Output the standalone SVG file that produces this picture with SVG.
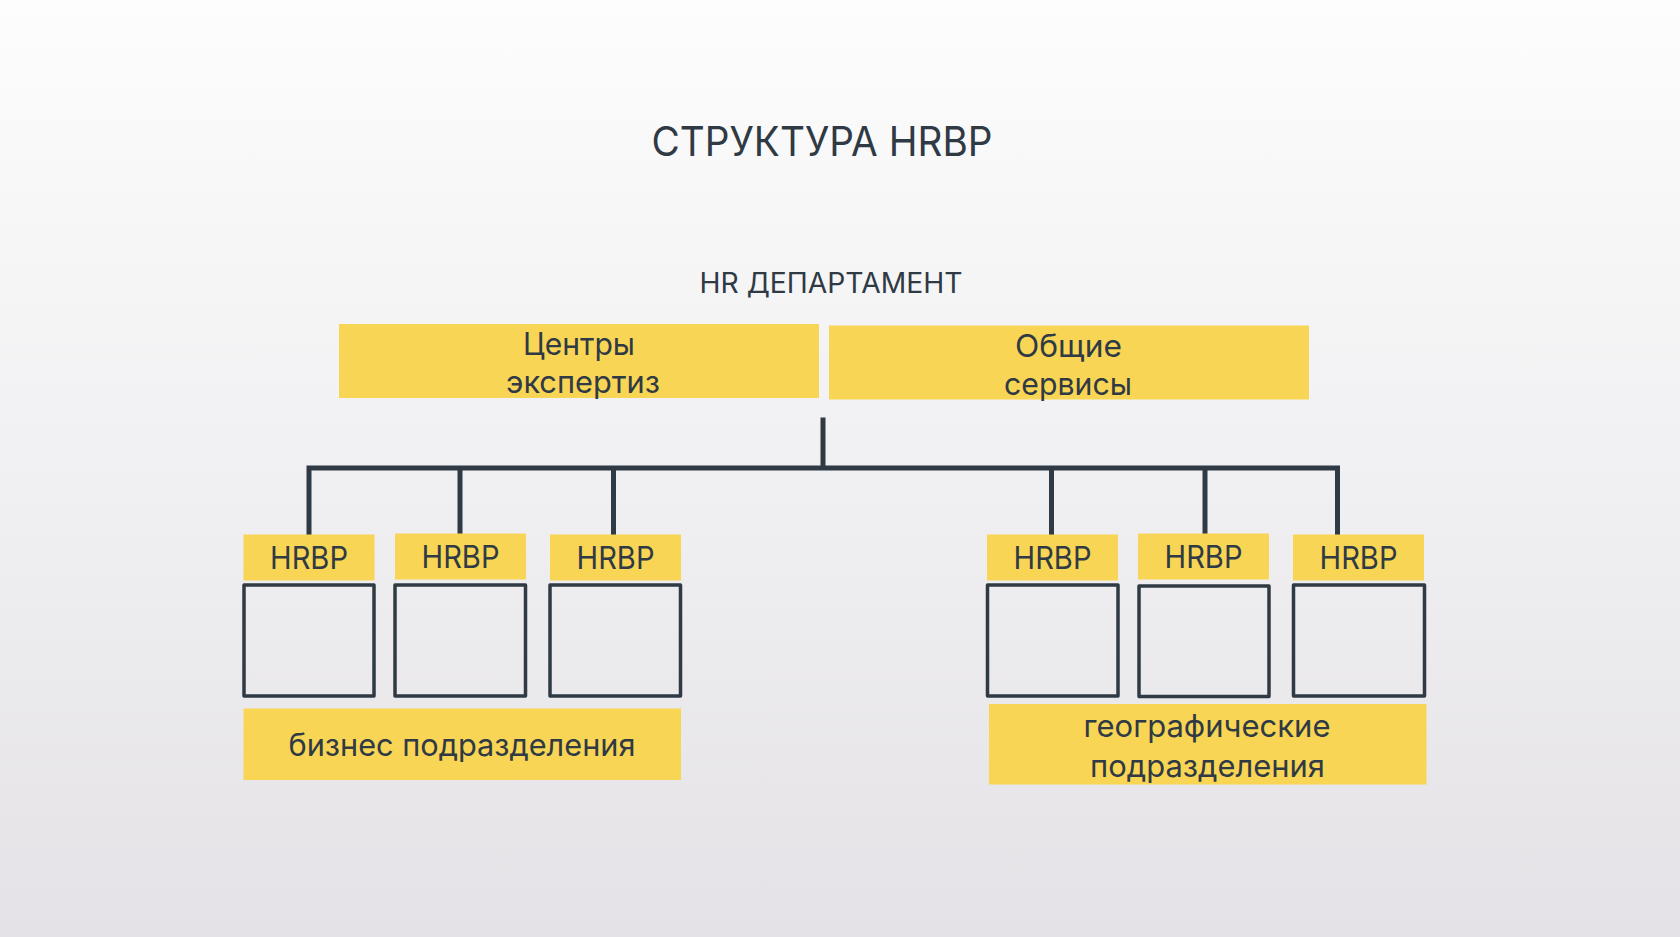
<svg xmlns="http://www.w3.org/2000/svg" width="1680" height="937" viewBox="0 0 1680 937">
<defs>
<linearGradient id="bg" x1="0" y1="0" x2="0" y2="1">
<stop offset="0" stop-color="#fdfdfd"/>
<stop offset="1" stop-color="#e4e2e6"/>
</linearGradient>
<style>
.y{fill:#f8d555}
.sq{fill:none;stroke:#2f3a44;stroke-width:3.5;stroke-linejoin:round}
.t{font-family:Inter,"Noto Sans","Liberation Sans",sans-serif;fill:#2f3a44;text-anchor:middle}
.c{fill:none;stroke:#2f3a44;stroke-width:5;stroke-linecap:butt}
</style>
</defs>
<rect width="1680" height="937" fill="url(#bg)"/>
<g id="title"><text class="t" x="822" y="156" font-size="41" textLength="341" lengthAdjust="spacingAndGlyphs">СТРУКТУРА HRBP</text></g>
<g id="hr-dept"><text class="t" x="831" y="292.5" font-size="28" textLength="263" lengthAdjust="spacingAndGlyphs">HR ДЕПАРТАМЕНТ</text></g>
<g id="centers">
<rect class="y" x="339" y="324" width="480" height="74"/>
<text class="t" x="579" y="355" font-size="31" textLength="112" lengthAdjust="spacingAndGlyphs">Центры</text>
<text class="t" x="583" y="393" font-size="31" textLength="154" lengthAdjust="spacingAndGlyphs">экспертиз</text>
</g>
<g id="services">
<rect class="y" x="829" y="325.5" width="480" height="74"/>
<text class="t" x="1068.5" y="356.5" font-size="31" textLength="107" lengthAdjust="spacingAndGlyphs">Общие</text>
<text class="t" x="1068" y="394.5" font-size="31" textLength="128" lengthAdjust="spacingAndGlyphs">сервисы</text>
</g>
<g id="connectors">
<path class="c" d="M823 417.5 V468 M309 468 H1337.5 M309 465.5 V536 M460 468 V535 M613.5 468 V536 M1051.5 468 V536 M1205 468 V535 M1337.5 465.5 V536"/>
</g>
<g id="hrbp1"><rect class="y" x="243.5" y="534.5" width="131" height="46"/><text class="t" x="309" y="569" font-size="31" textLength="78" lengthAdjust="spacingAndGlyphs">HRBP</text><rect class="sq" x="244" y="585" width="130" height="111"/></g>
<g id="hrbp2"><rect class="y" x="395" y="533.5" width="131" height="46"/><text class="t" x="460.5" y="568" font-size="31" textLength="78" lengthAdjust="spacingAndGlyphs">HRBP</text><rect class="sq" x="395" y="585" width="130.5" height="111"/></g>
<g id="hrbp3"><rect class="y" x="550" y="534.5" width="131" height="46"/><text class="t" x="615.5" y="569" font-size="31" textLength="78" lengthAdjust="spacingAndGlyphs">HRBP</text><rect class="sq" x="550" y="585" width="130.5" height="111"/></g>
<g id="hrbp4"><rect class="y" x="987" y="534.5" width="131" height="46"/><text class="t" x="1052.5" y="569" font-size="31" textLength="78" lengthAdjust="spacingAndGlyphs">HRBP</text><rect class="sq" x="987.5" y="585" width="130.5" height="111"/></g>
<g id="hrbp5"><rect class="y" x="1138" y="533.5" width="131" height="46"/><text class="t" x="1203.5" y="568" font-size="31" textLength="78" lengthAdjust="spacingAndGlyphs">HRBP</text><rect class="sq" x="1139" y="586" width="130" height="110.5"/></g>
<g id="hrbp6"><rect class="y" x="1293" y="534.5" width="131" height="46"/><text class="t" x="1358.5" y="569" font-size="31" textLength="78" lengthAdjust="spacingAndGlyphs">HRBP</text><rect class="sq" x="1293.5" y="585" width="131" height="111"/></g>
<g id="business">
<rect class="y" x="243.5" y="708.5" width="437.5" height="71.5"/>
<text class="t" x="462" y="756" font-size="31" textLength="347" lengthAdjust="spacingAndGlyphs">бизнес подразделения</text>
</g>
<g id="geo">
<rect class="y" x="989" y="704" width="437.5" height="80.5"/>
<text class="t" x="1207" y="737" font-size="31" textLength="247" lengthAdjust="spacingAndGlyphs">географические</text>
<text class="t" x="1207.5" y="777" font-size="31" textLength="235" lengthAdjust="spacingAndGlyphs">подразделения</text>
</g>
</svg>
